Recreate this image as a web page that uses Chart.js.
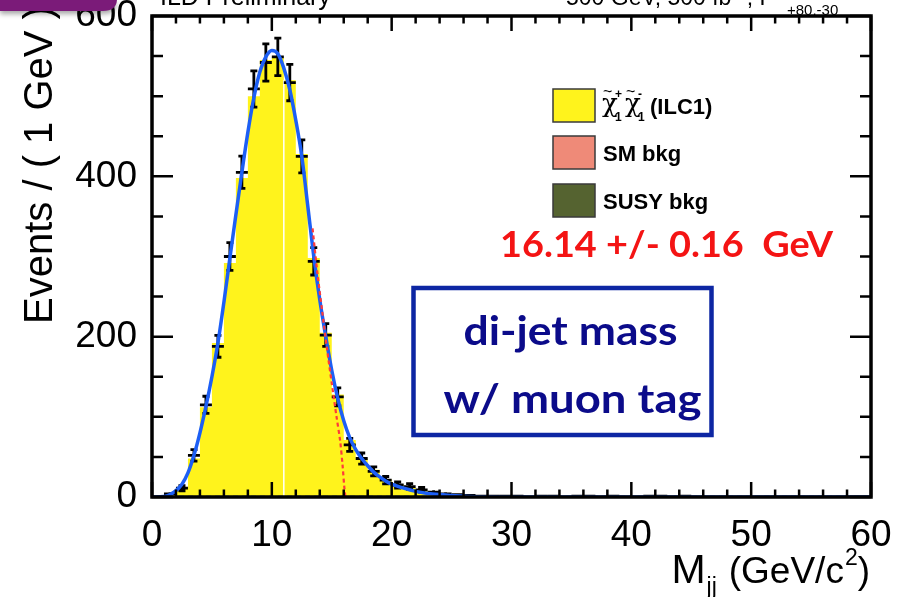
<!DOCTYPE html>
<html><head><meta charset="utf-8">
<script src="https://cdn.jsdelivr.net/npm/chart.js@4.4.1/dist/chart.umd.min.js"></script>
<style>html,body{margin:0;padding:0;background:#fff;}#wrap{width:908px;height:597px;position:relative;}</style>
</head><body><div id="wrap"><canvas id="c" width="908" height="597"></canvas></div>
<script>
// ---- tick labels ----
const xTickLabels = [0, 10, 20, 30, 40, 50, 60];
const yTickLabels = [0, 200, 400, 600];
// ---- data points (bin centres, 1 GeV bins) ----
const dataX = [1.5,2.5,3.5,4.5,5.5,6.5,7.5,8.5,9.5,10.5,11.5,12.5,13.5,14.5,15.5,16.5,17.5,18.5,19.5,20.5,21.5,22.5,23.5,24.5,25.5,26.5,27.5,28.5,29.5,30.5,32.5,33.5,35.5,36.5,38.5,41.5,42.5,44.5];
const dataY = [4,11,52,115,188,300,405,509,542,549,517,425,294,202,125,65,48,32,21,15,13,9,6,4,3,2,1,1,1,1,1,1,1,1,1,1,1,1];
const dataErr = [2,3.3,7.2,10.7,13.7,17.3,20.1,22.6,23.3,23.4,22.7,20.6,17.1,14.2,11.2,8.1,6.9,5.7,4.6,3.9,3.6,3,2.4,2,1.7,1.4,1,1,1,1,1,1,1,1,1,1,1,1];
// ---- stacked MC histogram (bins 0-1 ... 59-60) ----
const histY = [0,2,10,48,112,192,292,398,500,545,548,520,428,298,205,128,71,48,34,22,16,12,8,5,3,2,1,1,1,1,1,0,1,1,0,1,1,0,1,0,0,1,1,0,1,0,0,0,0,0,0,0,0,0,0,0,0,0,0,0];
// ---- fit curve ----
const fitX = [0,1,1.5,2,2.5,3,3.5,4,4.5,5,5.5,6,6.5,7,7.5,8,8.5,9,9.5,10,10.5,11,11.5,12,12.5,13,13.5,14,14.5,15,15.5,16,16.5,17,17.5,18,18.5,19,19.5,20,21,22,23,24,25,26,28,30,60];
const fitY = [0,0.5,3,8,16,30,52,80,113,150,192,243,298,352,405,455,498,530,549,557,553,535,508,470,425,363,300,246,200,158,123,95,74,59,48,39,31,25,20,16,11,7,4.5,3,2,1,0.3,0,0];
// ---- edge fit (red dashed) ----
const edgeX = [13.4,13.8,14.2,14.6,15.0,15.4,15.7,15.9,16.05,16.14];
const edgeY = [335,280,232,185,142,100,70,40,12,0];
// ---- background fit component (blue dashed) ----
const bkgX = [0, 60];
const bkgY = [0.6, 0.6];
// ---- legend ----
const legendLabels = ['(ILC1)', 'SM bkg', 'SUSY bkg'];
const legendColors = ['#fff31c', '#ef8a78', '#556330'];
const resultText = '16.14 +/- 0.16  GeV';
const boxLines = ['di-jet mass', 'w/ muon tag'];

const pts = (xs, ys) => xs.map((x, i) => ({x, y: ys[i]}));
const histPts = histY.map((y, i) => ({x: i, y})).concat([{x: 60, y: histY[histY.length - 1]}]);
const whitePts = [{x: 11, y: 0}, {x: 11, y: histY[11]}];

const ROOTF = "'Liberation Sans', Arial, sans-serif";

function fitText(ctx, text, x, y, w, font, color, align) {
  ctx.save();
  ctx.font = font; ctx.fillStyle = color; ctx.textBaseline = 'alphabetic'; ctx.textAlign = 'left';
  const m = ctx.measureText(text).width;
  const s = w / m;
  let x0 = x;
  if (align === 'center') x0 = x - w / 2;
  ctx.translate(x0, y); ctx.scale(s, 1);
  ctx.fillText(text, 0, 0);
  ctx.restore();
}

const decor = {
  id: 'decor',
  afterDatasetDraw(chart, args) {
    if (args.index !== 3) return;
    const ctx = chart.ctx, xs = chart.scales.x, ys = chart.scales.y;
    const ca = chart.chartArea;
    ctx.save();
    ctx.beginPath(); ctx.rect(ca.left, ca.top - 5, ca.right - ca.left, ca.bottom - ca.top + 5); ctx.clip();
    ctx.strokeStyle = '#000'; ctx.lineWidth = 2.8; ctx.lineCap = 'butt';
    dataX.forEach((xv, i) => {
      const px = xs.getPixelForValue(xv), py = ys.getPixelForValue(dataY[i]);
      const xl = xs.getPixelForValue(xv - 0.5), xr = xs.getPixelForValue(xv + 0.5);
      const yt = ys.getPixelForValue(dataY[i] + dataErr[i]), yb = ys.getPixelForValue(dataY[i] - dataErr[i]);
      ctx.beginPath();
      ctx.moveTo(xl, py); ctx.lineTo(xr, py);
      ctx.moveTo(px, yt); ctx.lineTo(px, yb);
      if (dataErr[i] > 2.5) {
        ctx.moveTo(px - 3.5, yt); ctx.lineTo(px + 3.5, yt);
        ctx.moveTo(px - 3.5, yb); ctx.lineTo(px + 3.5, yb);
      }
      ctx.stroke();
    });
    ctx.restore();
  },
  afterDraw(chart) {
    const ctx = chart.ctx, xs = chart.scales.x, ys = chart.scales.y;
    const ca = chart.chartArea;
    ctx.save();
    // ticks (inward, all four sides)
    ctx.strokeStyle = '#000'; ctx.lineWidth = 2.5;
    ctx.beginPath();
    for (let v = 0; v <= 60; v += 2) {
      const p = xs.getPixelForValue(v);
      const L = (v % 10 === 0) ? 15 : 7.5;
      ctx.moveTo(p, ca.bottom); ctx.lineTo(p, ca.bottom - L);
      ctx.moveTo(p, ca.top); ctx.lineTo(p, ca.top + L);
    }
    for (let v = 0; v <= 600; v += 50) {
      const p = ys.getPixelForValue(v);
      const L = (v % 200 === 0) ? 21 : 11;
      ctx.moveTo(ca.left, p); ctx.lineTo(ca.left + L, p);
      ctx.moveTo(ca.right, p); ctx.lineTo(ca.right - L, p);
    }
    ctx.stroke();
    // frame
    ctx.lineWidth = 3.5;
    ctx.strokeRect(ca.left, ca.top, ca.right - ca.left, ca.bottom - ca.top);

    // axis titles
    ctx.fillStyle = '#000';
    ctx.textBaseline = 'alphabetic';
    ctx.save();
    ctx.translate(52, 165); ctx.rotate(-Math.PI / 2);
    ctx.font = '40px ' + ROOTF; ctx.textAlign = 'center';
    ctx.fillText('Events / ( 1 GeV )', 0, 0);
    ctx.restore();

    // x title: M_jj (GeV/c^2), right aligned at frame right
    ctx.textAlign = 'left';
    const base = 583, big = '37px ' + ROOTF, bigM = '41px ' + ROOTF, small = '23px ' + ROOTF;
    const parts = [['M', bigM, 0, 0], ['jj', small, 11, 13], ['(GeV/c', big, 0, 0], ['2', small, -18, 1], [')', big, 0, 0]];
    let total = 0;
    parts.forEach(p => { ctx.font = p[1]; total += ctx.measureText(p[0]).width + p[3]; });
    let x = 870 - total;
    parts.forEach(p => { ctx.font = p[1]; ctx.fillText(p[0], x + (p[3] ? 1 : 0), base + p[2]); x += ctx.measureText(p[0]).width + p[3]; });

    // top header texts (mostly cut off)
    ctx.font = '25px ' + ROOTF;
    ctx.fillText('ILD Preliminary', 160, 5);
    ctx.font = '23px ' + ROOTF;
    let tx = 566;
    ctx.fillText('500 GeV, 500 fb', tx, 5); tx += ctx.measureText('500 GeV, 500 fb').width;
    ctx.font = '15px ' + ROOTF; ctx.fillText('-1', tx + 1, -4); tx += ctx.measureText('-1').width + 2;
    ctx.font = '23px ' + ROOTF; ctx.fillText(', P', tx, 5);
    ctx.font = '15px ' + ROOTF; ctx.fillText('+80,-30', 787, 15);

    // legend
    const tops = [89, 136, 184];
    tops.forEach((t, i) => {
      ctx.fillStyle = legendColors[i];
      ctx.fillRect(553, t, 42, 33);
      ctx.strokeStyle = '#3a3a3a'; ctx.lineWidth = 1.5;
      ctx.strokeRect(553, t, 42, 33);
    });
    ctx.fillStyle = '#000';
    ctx.font = 'bold 22px ' + ROOTF;
    ctx.fillText(legendLabels[1], 603, 161);
    ctx.fillText(legendLabels[2], 603, 209);
    // chargino label
    const chi = (cx, sup) => {
      ctx.font = '26px "DejaVu Serif", "Liberation Serif", serif';
      ctx.fillText('\u03C7', cx, 112);
      ctx.font = '16px ' + ROOTF;
      ctx.fillText('~', cx + 1, 97);
      ctx.font = 'bold 12px ' + ROOTF;
      ctx.fillText('1', cx + 13, 121);
      ctx.fillText(sup, cx + 13, 98);
    };
    chi(602, '+'); chi(625, '-');
    ctx.font = 'bold 22px ' + ROOTF;
    ctx.fillText(legendLabels[0], 650, 114);

    // fit result
    fitText(ctx, resultText, 500, 257, 333, 'bold 36px Lato, "Open Sans", sans-serif', '#f41414');

    // di-jet box
    ctx.strokeStyle = '#0d26a3'; ctx.lineWidth = 4.5;
    ctx.strokeRect(413.5, 288, 298, 147);
    fitText(ctx, boxLines[0], 570.5, 345, 214, 'bold 40px Lato, "Open Sans", sans-serif', '#0b0b8a', 'center');
    fitText(ctx, boxLines[1], 572.5, 413, 258, 'bold 40px Lato, "Open Sans", sans-serif', '#0b0b8a', 'center');

    // slide decoration top-left
    ctx.save();
    ctx.shadowColor = 'rgba(0,0,0,0.35)'; ctx.shadowBlur = 5; ctx.shadowOffsetY = 3;
    ctx.fillStyle = '#7b1b79';
    ctx.beginPath(); ctx.moveTo(0, 0); ctx.lineTo(117, 0);
    ctx.quadraticCurveTo(116, 11, 103, 11); ctx.lineTo(0, 11); ctx.closePath(); ctx.fill();
    ctx.restore();
    ctx.restore();
  }
};

new Chart(document.getElementById('c'), {
  type: 'line',
  data: {
    datasets: [
      { label: 'edge', data: pts(edgeX, edgeY), borderColor: '#ff3a3a', borderWidth: 2.2, borderDash: [4, 3], pointRadius: 0, fill: false, order: 0, tension: 0.3 },
      { label: 'fit', data: pts(fitX, fitY), borderColor: '#1d5ff5', borderWidth: 3.5, pointRadius: 0, fill: false, order: 1, cubicInterpolationMode: 'monotone' },
      { label: 'data', type: 'scatter', data: pts(dataX, dataY), pointRadius: 0, showLine: false, order: 2 },
      { label: 'bkg', data: pts(bkgX, bkgY), borderColor: '#1d5ff5', borderWidth: 1.5, borderDash: [5, 4], pointRadius: 0, fill: false, order: 3 },
      { label: 'white', data: whitePts, borderColor: '#ffffff', borderWidth: 1.5, pointRadius: 0, fill: false, order: 4 },
      { label: 'hist', data: histPts, stepped: 'before', borderColor: 'rgba(0,0,0,0)', borderWidth: 0, backgroundColor: '#fff31c', fill: 'origin', pointRadius: 0, order: 5 }
    ]
  },
  options: {
    responsive: false, animation: false, devicePixelRatio: 1,
    layout: { padding: { top: 16, right: 37, bottom: 0, left: 0 } },
    plugins: { legend: { display: false }, tooltip: { enabled: false } },
    scales: {
      x: {
        type: 'linear', min: 0, max: 60,
        grid: { display: false }, border: { display: false },
        afterBuildTicks: s => { s.ticks = xTickLabels.map(v => ({ value: v })); },
        ticks: { color: '#000', font: { family: ROOTF, size: 37, lineHeight: 1 }, padding: 12, maxRotation: 0, autoSkip: false },
        afterFit: s => { s.height = 100; s.paddingLeft = 0; s.paddingRight = 0; }
      },
      y: {
        type: 'linear', min: 0, max: 600,
        grid: { display: false }, border: { display: false },
        afterBuildTicks: s => { s.ticks = yTickLabels.map(v => ({ value: v })); },
        ticks: { color: '#000', font: { family: ROOTF, size: 37, lineHeight: 1 }, padding: 7 },
        afterFit: s => { s.width = 152; s.paddingTop = 0; s.paddingBottom = 0; }
      }
    }
  },
  plugins: [decor]
});
</script>
</body></html>
